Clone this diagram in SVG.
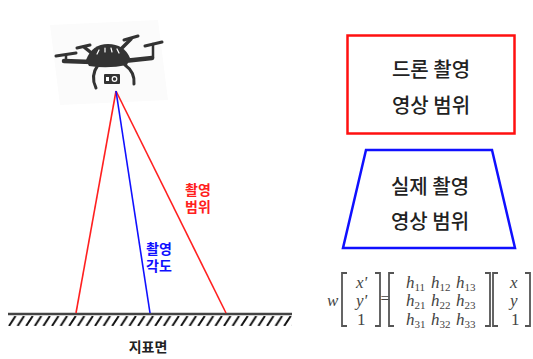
<svg xmlns="http://www.w3.org/2000/svg" width="533" height="359" viewBox="0 0 533 359">
  <defs>
    <style>
      .kr { font-family: "Noto Sans CJK KR", "Noto Sans", sans-serif; font-weight: 700; }
      .box { font-size: 20px; font-weight: 500; fill: #222; text-anchor: middle; }
      .lbl { font-size: 14px; text-anchor: middle; }
      .m { font-family: "Liberation Serif", "DejaVu Serif", serif; font-style: italic; font-size: 17px; fill: #444; }
      .n { font-family: "Liberation Serif", "DejaVu Serif", serif; font-size: 17px; fill: #444; }
      .sub { font-style: normal; font-size: 11px; }
      .br { fill: none; stroke: #555; stroke-width: 1.8; }
      .dr { fill: none; stroke: #333; stroke-linecap: round; }
    </style>
    <pattern id="hatch" patternUnits="userSpaceOnUse" x="8" y="316" width="8.6" height="10">
      <line x1="1" y1="10" x2="7.5" y2="0" stroke="#111" stroke-width="2"/>
    </pattern>
  </defs>

  <rect width="533" height="359" fill="#fff"/>

  <!-- drone icon -->
  <g id="drone">
    <polygon points="50,25 158,20 168,100 60,105" fill="#fbfbfb"/>
    <!-- propellers -->
    <line class="dr" x1="56" y1="56" x2="76" y2="53" stroke-width="3"/>
    <line class="dr" x1="77" y1="48" x2="90" y2="45" stroke-width="3"/>
    <line class="dr" x1="124" y1="40" x2="138" y2="36" stroke-width="3"/>
    <line class="dr" x1="145" y1="46" x2="162" y2="42" stroke-width="3"/>
    <!-- posts and arms -->
    <line class="dr" x1="66" y1="55" x2="66" y2="60" stroke-width="2.5"/>
    <line class="dr" x1="153" y1="44" x2="153" y2="58" stroke-width="2.5"/>
    <line class="dr" x1="84" y1="47" x2="94" y2="55" stroke-width="3.5"/>
    <line class="dr" x1="131" y1="39" x2="120" y2="50" stroke-width="3.5"/>
    <line class="dr" x1="64" y1="61" x2="92" y2="62" stroke-width="4.5"/>
    <line class="dr" x1="124" y1="61" x2="152" y2="58" stroke-width="4.5"/>
    <!-- body -->
    <path d="M86,60 Q92,44 108,44 Q124,44 130,58 L127,65 Q108,69 89,66 Z" fill="#333"/>
    <g stroke="#fff" stroke-width="1.2" stroke-linecap="round">
      <line x1="99" y1="50" x2="97" y2="54"/>
      <line x1="105" y1="48" x2="105" y2="52"/>
      <line x1="111" y1="48" x2="112" y2="52"/>
      <line x1="117" y1="49" x2="119" y2="53"/>
    </g>
    <!-- legs -->
    <path class="dr" d="M98,65 Q90,76 96,88" stroke-width="3"/>
    <path class="dr" d="M125,65 Q135,72 134,84" stroke-width="3"/>
    <!-- camera -->
    <rect x="104" y="74" width="16" height="10" rx="1" fill="#333"/>
    <rect x="106" y="77" width="3" height="4" fill="#fff"/>
    <circle cx="114.5" cy="79" r="2.3" fill="none" stroke="#fff" stroke-width="1.2"/>
  </g>

  <!-- ground surface -->
  <g id="ground">
    <rect x="8" y="316" width="284" height="10" fill="url(#hatch)"/>
    <line x1="8" y1="314" x2="292" y2="314" stroke="#444" stroke-width="2.5"/>
    <text class="kr lbl" x="148" y="352" fill="#222" font-size="15">지표면</text>
  </g>

  <!-- view lines -->
  <g id="connectors" stroke-width="1.6" fill="none">
    <line x1="116" y1="91" x2="76" y2="313" stroke="#ff2020"/>
    <line x1="116" y1="91" x2="226" y2="313" stroke="#ff2020"/>
    <line x1="116" y1="91" x2="150" y2="313" stroke="#1010ff"/>
  </g>

  <g id="label-range">
    <text class="kr lbl" fill="#ff2020"><tspan x="198" y="194.5">촬영</tspan><tspan x="198" y="212">범위</tspan></text>
  </g>
  <g id="label-angle">
    <text class="kr lbl" fill="#1010ff"><tspan x="159" y="253.5">촬영</tspan><tspan x="159" y="271">각도</tspan></text>
  </g>

  <!-- image extents -->
  <g id="drone-extent">
    <rect x="347.5" y="35.5" width="167" height="98" fill="#fff" stroke="#ff1010" stroke-width="2.5"/>
    <text class="kr box" x="431" y="77">드론 촬영</text>
    <text class="kr box" x="431" y="113">영상 범위</text>
  </g>
  <g id="real-extent">
    <polygon points="366,150 492,150 515,248 343,248" fill="#fff" stroke="#1010ff" stroke-width="2.5"/>
    <text class="kr box" x="430" y="194">실제 촬영</text>
    <text class="kr box" x="430" y="229">영상 범위</text>
  </g>

  <!-- homography -->
  <g id="formula">
    <text class="m" x="327" y="306">w</text>
    <path class="br" d="M347,273 H342 V326 H347"/>
    <path class="br" d="M375,273 H380 V326 H375"/>
    <text class="m" x="356" y="288">x'</text>
    <text class="m" x="356" y="306">y'</text>
    <text class="n" x="357" y="325">1</text>
    <text class="n" x="380.5" y="304" font-size="15">=</text>
    <path class="br" d="M394,273 H389 V326 H394"/>
    <path class="br" d="M485,273 H490 V326 H485"/>
    <text class="m" x="406" y="288">h<tspan class="sub" dy="3">11</tspan></text>
    <text class="m" x="431" y="288">h<tspan class="sub" dy="3">12</tspan></text>
    <text class="m" x="456" y="288">h<tspan class="sub" dy="3">13</tspan></text>
    <text class="m" x="406" y="306">h<tspan class="sub" dy="3">21</tspan></text>
    <text class="m" x="431" y="306">h<tspan class="sub" dy="3">22</tspan></text>
    <text class="m" x="456" y="306">h<tspan class="sub" dy="3">23</tspan></text>
    <text class="m" x="406" y="325">h<tspan class="sub" dy="3">31</tspan></text>
    <text class="m" x="431" y="325">h<tspan class="sub" dy="3">32</tspan></text>
    <text class="m" x="456" y="325">h<tspan class="sub" dy="3">33</tspan></text>
    <path class="br" d="M498,273 H493 V326 H498"/>
    <path class="br" d="M525,273 H530 V326 H525"/>
    <text class="m" x="510" y="288">x</text>
    <text class="m" x="510" y="306">y</text>
    <text class="n" x="511" y="325">1</text>
  </g>
</svg>
